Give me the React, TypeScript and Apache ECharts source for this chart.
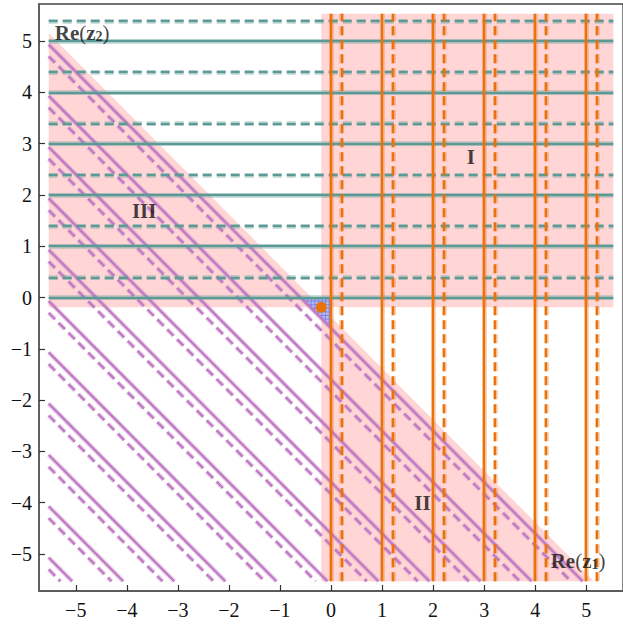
import React, { useEffect, useRef } from "react";
import * as echarts from "echarts";

// ---- data ----
const xTicks = [-5, -4, -3, -2, -1, 0, 1, 2, 3, 4, 5];
const yTicks = [-5, -4, -3, -2, -1, 0, 1, 2, 3, 4, 5];
const AXIS_MIN = -5.72;
const AXIS_MAX = 5.72;
const EXTENT = 5.53; // half-length of every drawn line / region

const tealSolidY = [0, 1, 2, 3, 4, 5];
const tealDashedY = [0.39, 1.39, 2.39, 3.39, 4.39, 5.39];
const orangeSolidX = [0, 1, 2, 3, 4, 5];
const orangeDashedX = [0.21, 1.21, 2.21, 3.21, 4.21, 5.21];
const purpleSolidSum = [-0.6, -1.6, -2.6, -3.6, -4.6, -5.6, -6.6, -7.6, -8.6, -9.6, -10.6];
const purpleDashedSum = [-0.83, -1.83, -2.83, -3.83, -4.83, -5.83, -6.83, -7.83, -8.83, -9.83, -10.83];

const regionCorner = -0.19; // corner shared by regions I, II, III
const hatchSum = -0.6; // hatched triangle: x<=0, y<=0, x+y>=hatchSum
const dotPoint = [-0.19, -0.19];

const regionLabels = [
  { name: "I", x: 2.74, y: 2.73 },
  { name: "II", x: 1.79, y: -4.0 },
  { name: "III", x: -3.66, y: 1.68 },
];
const reZ2Pos = [-5.41, 5.2];
const reZ1Pos = [4.84, -5.09];

// ---- styles ----
const TEAL = "#5b9a96";
const ORANGE = "#e9720c";
const PURPLE = "#c07bc4";
const PINK = "#ffd5d5";
const HATCH_FILL = "#b6baf3";
const HATCH_LINE = "#6c74de";
const FONT = "'Liberation Serif', 'DejaVu Serif', serif";

const E = EXTENT;
const t = regionCorner;
const regionPolys = [
  [[t, t], [E, t], [E, E], [t, E]],
  [[t, t], [t, -E], [2 * t + E, -E]],
  [[t, t], [-E, t], [-E, 2 * t + E]],
];

function fmt(v: number) {
  return v < 0 ? "\u2212" + Math.abs(v) : String(v);
}

function lineGroup(coords: number[][][], color: string, dashed: boolean, z: number) {
  const data = coords.map((c) => ({ coords: c }));
  const type = dashed ? [9, 5] : "solid";
  return [
    {
      type: "lines",
      coordinateSystem: "cartesian2d",
      silent: true,
      polyline: false,
      data,
      lineStyle: { color, width: 4.8, type, opacity: 0.3, cap: "butt" },
      z,
    },
    {
      type: "lines",
      coordinateSystem: "cartesian2d",
      silent: true,
      polyline: false,
      data,
      lineStyle: { color, width: 2.4, type, opacity: 1, cap: "butt" },
      z: z + 0.5,
    },
  ];
}

export default function App() {
  const ref = useRef<HTMLDivElement>(null);
  useEffect(() => {
    if (!ref.current) return;
    const chart = echarts.init(ref.current, undefined, { renderer: "svg" });

    const hCoords = (ys: number[]) => ys.map((y) => [[-E, y], [E, y]]);
    const vCoords = (xs: number[]) => xs.map((x) => [[x, -E], [x, E]]);
    const dCoords = (cs: number[]) => cs.map((c) => [[-E, c + E], [c + E, -E]]);

    const series: any[] = [
      {
        type: "custom",
        coordinateSystem: "cartesian2d",
        silent: true,
        data: regionPolys.map((p, i) => [p[0][0], p[0][1], i]),
        renderItem: (params: any, api: any) => {
          const poly = regionPolys[params.dataIndex];
          return {
            type: "polygon",
            shape: { points: poly.map((p) => api.coord(p)) },
            style: { fill: PINK },
          };
        },
        z: 1,
      },
      {
        type: "custom",
        coordinateSystem: "cartesian2d",
        silent: true,
        data: [[0, 0]],
        renderItem: (params: any, api: any) => {
          const p0 = api.coord([hatchSum, 0]);
          const p1 = api.coord([0, 0]);
          const p2 = api.coord([0, hatchSum]);
          const x0 = p0[0], x1 = p1[0], yT = p1[1], yB = p2[1];
          const children: any[] = [
            {
              type: "polygon",
              shape: { points: [p0, p1, p2] },
              style: { fill: HATCH_FILL },
            },
          ];
          const step = 3.6;
          for (let x = x0 + step; x < x1; x += step) {
            const yEnd = yT + ((x - x0) * (yB - yT)) / (x1 - x0);
            children.push({
              type: "line",
              shape: { x1: x, y1: yT, x2: x, y2: yEnd },
              style: { stroke: HATCH_LINE, lineWidth: 0.7 },
            });
          }
          for (let y = yT + step; y < yB; y += step) {
            const xStart = x0 + ((y - yT) * (x1 - x0)) / (yB - yT);
            children.push({
              type: "line",
              shape: { x1: xStart, y1: y, x2: x1, y2: y },
              style: { stroke: HATCH_LINE, lineWidth: 0.7 },
            });
          }
          return { type: "group", children };
        },
        z: 2,
      },
      ...lineGroup(dCoords(purpleSolidSum), PURPLE, false, 3),
      ...lineGroup(dCoords(purpleDashedSum), PURPLE, true, 3),
      ...lineGroup(hCoords(tealSolidY), TEAL, false, 4),
      ...lineGroup(hCoords(tealDashedY), TEAL, true, 4),
      ...lineGroup(vCoords(orangeSolidX), ORANGE, false, 5),
      ...lineGroup(vCoords(orangeDashedX), ORANGE, true, 5),
      {
        type: "scatter",
        silent: true,
        data: [dotPoint],
        symbolSize: 11,
        itemStyle: { color: ORANGE, opacity: 1 },
        z: 8,
      },
      {
        type: "scatter",
        silent: true,
        symbolSize: 0,
        data: regionLabels.map((r) => ({ name: r.name, value: [r.x, r.y] })),
        label: {
          show: true,
          position: "inside",
          formatter: (p: any) => p.name,
          fontFamily: FONT,
          fontWeight: "bold",
          fontSize: 21,
          color: "#111",
        },
        z: 9,
      },
      {
        type: "scatter",
        silent: true,
        symbolSize: 0,
        data: [
          { name: "2", value: reZ2Pos, label: { position: "right", distance: 0 } },
          { name: "1", value: reZ1Pos, label: { position: "inside" } },
        ],
        label: {
          show: true,
          formatter: (p: any) => `{b|Re}{p|(}{b|z}{s|${p.name}}{p|)}`,
          rich: {
            b: { fontFamily: FONT, fontWeight: "bold", fontSize: 21, lineHeight: 26, color: "#111", verticalAlign: "bottom" },
            p: { fontFamily: FONT, fontSize: 21, lineHeight: 26, color: "#111", verticalAlign: "bottom" },
            s: { fontFamily: FONT, fontWeight: "bold", fontSize: 14, lineHeight: 20, color: "#111", verticalAlign: "bottom" },
          },
        },
        z: 9,
      },
    ];

    chart.setOption({
      animation: false,
      grid: {
        left: 39,
        right: -4,
        top: 4,
        bottom: 34,
        show: true,
        borderColor: "#444",
        borderWidth: 1.3,
        backgroundColor: "transparent",
      },
      xAxis: {
        type: "value",
        min: AXIS_MIN,
        max: AXIS_MAX,
        axisLine: { show: true, onZero: false, lineStyle: { color: "#555", width: 1.5 } },
        axisTick: { show: true, inside: true, length: 6, customValues: xTicks, lineStyle: { color: "#333", width: 1.2 } },
        axisLabel: { customValues: xTicks, formatter: fmt, fontFamily: FONT, fontSize: 20, color: "#111", margin: 9 },
        splitLine: { show: false },
      },
      yAxis: {
        type: "value",
        min: AXIS_MIN,
        max: AXIS_MAX,
        axisLine: { show: true, onZero: false, lineStyle: { color: "#555", width: 1.5 } },
        axisTick: { show: true, inside: true, length: 6, customValues: yTicks, lineStyle: { color: "#333", width: 1.2 } },
        axisLabel: { customValues: yTicks, formatter: fmt, fontFamily: FONT, fontSize: 20, color: "#111", margin: 7 },
        splitLine: { show: false },
      },
      series,
    });
    return () => chart.dispose();
  }, []);
  return (
    <div
      ref={ref}
      style={{ position: "absolute", left: 0, top: 0, width: 623, height: 625, background: "#fff" }}
    />
  );
}
